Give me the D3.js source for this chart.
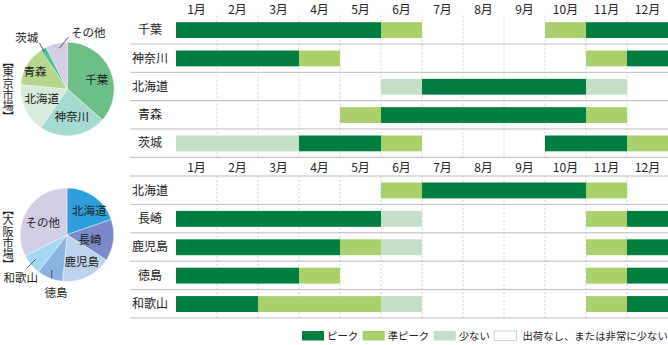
<!DOCTYPE html>
<html>
<head>
<meta charset="utf-8">
<script src="https://cdn.jsdelivr.net/npm/d3@7"></script>
<style>
  html, body { margin: 0; padding: 0; background: #fff; }
  svg { display: block; font-family: "Noto Sans CJK JP", "Noto Sans", sans-serif; }
</style>
</head>
<body>
<svg id="chart" width="668" height="345"></svg>
<script>
// ---- data ----
const months = ["1月","2月","3月","4月","5月","6月","7月","8月","9月","10月","11月","12月"];

// shipping level per month: 3 = ピーク, 2 = 準ピーク, 1 = 少ない, 0 = 出荷なし
const tokyoRegions = ["千葉","神奈川","北海道","青森","茨城"];
const tokyoSeason = [
  [3,3,3,3,3,2,0,0,0,2,3,3],
  [3,3,3,2,0,0,0,0,0,0,2,3],
  [0,0,0,0,0,1,3,3,3,3,1,0],
  [0,0,0,0,2,3,3,3,3,3,2,0],
  [1,1,1,3,3,2,0,0,0,3,3,2]
];

const osakaRegions = ["北海道","長崎","鹿児島","徳島","和歌山"];
const osakaSeason = [
  [0,0,0,0,0,2,3,3,3,3,2,0],
  [3,3,3,3,3,1,0,0,0,0,2,3],
  [3,3,3,3,2,1,0,0,0,0,2,3],
  [3,3,3,2,0,0,0,0,0,0,2,3],
  [3,3,2,2,2,1,0,0,0,0,2,3]
];

// market share (%)
const tokyoShareNames = ["千葉","神奈川","北海道","青森","茨城","その他"];
const tokyoShare = [36.5, 23, 17, 14, 2, 7.5];
const osakaShareNames = ["北海道","長崎","鹿児島","徳島","和歌山","その他"];
const osakaShare = [19.7, 14.4, 17.4, 9, 7, 32.5];

const legendLevels = [3, 2, 1, 0];
const levelNames = ["出荷なし、または非常に少ない", "少ない", "準ピーク", "ピーク"];

// ---- styles ----
const levelColor = ["#ffffff", "#c2e1c6", "#aad06c", "#007e40"];
const tokyoPieColors = ["#6cbf85", "#a5dad0", "#d6ebd9", "#b4d78c", "#52bd9c", "#d3cee6"];
const osakaPieColors = ["#2e9fdc", "#7a8ac9", "#bdd4ef", "#8bb3e0", "#a2d7f5", "#d3cee6"];

const svg = d3.select("#chart");
const textColor = "#222";

const x = d3.scaleLinear().domain([0, 12]).range([176, 668]);

function drawMonthHeader(baseline) {
  svg.append("g").selectAll("text").data(months).join("text")
    .attr("x", (d, i) => x(i + 0.5))
    .attr("y", baseline)
    .attr("text-anchor", "middle")
    .attr("font-size", 12)
    .attr("fill", textColor)
    .text(d => d);
}

function runs(row) {
  const out = [];
  let start = 0;
  for (let i = 1; i <= row.length; i++) {
    if (i === row.length || row[i] !== row[start]) {
      if (row[start] > 0) out.push({ start, end: i, level: row[start] });
      start = i;
    }
  }
  return out;
}

function drawSchedule(regions, season, top, bottom, lines) {
  const y = d3.scaleBand().domain(regions).range([top, bottom]);
  const g = svg.append("g");

  // dashed month gridlines
  g.selectAll("line.grid").data(d3.range(1, 12)).join("line")
    .attr("class", "grid")
    .attr("x1", d => x(d)).attr("x2", d => x(d))
    .attr("y1", top).attr("y2", bottom)
    .attr("stroke", "#c8c8c8").attr("stroke-width", 0.8)
    .attr("stroke-dasharray", "2,2");

  // row separators
  g.selectAll("line.sep").data(lines(y)).join("line")
    .attr("class", "sep")
    .attr("x1", 130).attr("x2", 668)
    .attr("y1", d => d).attr("y2", d => d)
    .attr("stroke", "#bdbdbd").attr("stroke-width", 1);

  const barPad = 6.5;
  const rows = g.selectAll("g.row").data(regions).join("g").attr("class", "row");
  rows.selectAll("rect").data((d, i) => runs(season[i]).map(r => ({ ...r, region: d }))).join("rect")
    .attr("x", d => x(d.start))
    .attr("width", d => x(d.end) - x(d.start))
    .attr("y", d => y(d.region) + barPad)
    .attr("height", y.bandwidth() - 2 * barPad + 0.5)
    .attr("fill", d => levelColor[d.level]);

  rows.append("text")
    .attr("x", 150)
    .attr("y", d => y(d) + y.bandwidth() / 2)
    .attr("dy", "0.36em")
    .attr("text-anchor", "middle")
    .attr("font-size", 12)
    .attr("fill", textColor)
    .text(d => d);
}

drawMonthHeader(13.9);
drawSchedule(tokyoRegions, tokyoSeason, 15.7, 157.3,
  y => tokyoRegions.map(r => y(r) + y.bandwidth()));
drawMonthHeader(172);
drawSchedule(osakaRegions, osakaSeason, 176, 318,
  y => [y(osakaRegions[0])].concat(osakaRegions.map(r => y(r) + y.bandwidth())));

// ---- pies ----
const R = 46.8;
const pie = d3.pie().sort(null).value(d => d);
const arc = d3.arc().innerRadius(0).outerRadius(R);

function drawPie(cx, cy, names, values, colors, labelOffsets, leaders, title, titleY) {
  const g = svg.append("g").attr("transform", `translate(${cx},${cy})`);
  const arcs = pie(values);
  g.selectAll("path").data(arcs).join("path")
    .attr("d", arc)
    .attr("fill", (d, i) => colors[i])
    .attr("stroke", "#fff").attr("stroke-width", 0.4);

  g.selectAll("line").data(leaders).join("line")
    .attr("x1", d => d[0]).attr("y1", d => d[1])
    .attr("x2", d => d[2]).attr("y2", d => d[3])
    .attr("stroke", "#333").attr("stroke-width", 0.8);

  g.selectAll("text").data(names).join("text")
    .attr("x", (d, i) => labelOffsets[i][0])
    .attr("y", (d, i) => labelOffsets[i][1])
    .attr("dy", "0.36em")
    .attr("text-anchor", "middle")
    .attr("font-size", 11.5)
    .attr("fill", textColor)
    .text(d => d);

  // market name, set vertically
  svg.append("text")
    .attr("x", 8.2)
    .attr("y", titleY)
    .attr("writing-mode", "vertical-rl")
    .style("font-feature-settings", "'vpal'")
    .attr("font-size", 11.2)
    .attr("fill", textColor)
    .text(title);
}

// label anchors relative to pie centre
drawPie(67.3, 89, tokyoShareNames, tokyoShare, tokyoPieColors,
  [[29.4, -9], [4.4, 27.7], [-25.6, 10.3], [-32.3, -17.3], [-40.6, -50.7], [21, -55.7]],
  [[-28, -46.3, -23, -37.3], [-8, -40.7, 1, -51.7]],
  "【東京市場】", 61);

drawPie(67, 234.7, osakaShareNames, osakaShare, osakaPieColors,
  [[22.3, -24], [23, 5.3], [14.7, 27], [-11, 58.6], [-46.3, 43.6], [-24.3, -12]],
  [[-31.3, 24.6, -40.3, 33.6], [-15.3, 35.3, -15.3, 43.6]],
  "【大阪市場】", 209);

// ---- legend ----
const legend = svg.append("g");
let lx = 302;
legendLevels.forEach(level => {
  legend.append("rect")
    .attr("x", lx).attr("y", 331)
    .attr("width", 22).attr("height", 9.5)
    .attr("fill", levelColor[level])
    .attr("stroke", level === 0 ? "#c8c8c8" : "none")
    .attr("stroke-width", 0.8);
  const t = legend.append("text")
    .attr("x", lx + 25 + (level === 0 ? 3 : 0)).attr("y", 335.8)
    .attr("dy", "0.36em")
    .attr("font-size", 10.4)
    .attr("fill", textColor)
    .text(levelNames[level]);
  lx += 25 + (level === 0 ? 3 : 0) + t.node().getComputedTextLength() + 4.5;
});
</script>
</body>
</html>
